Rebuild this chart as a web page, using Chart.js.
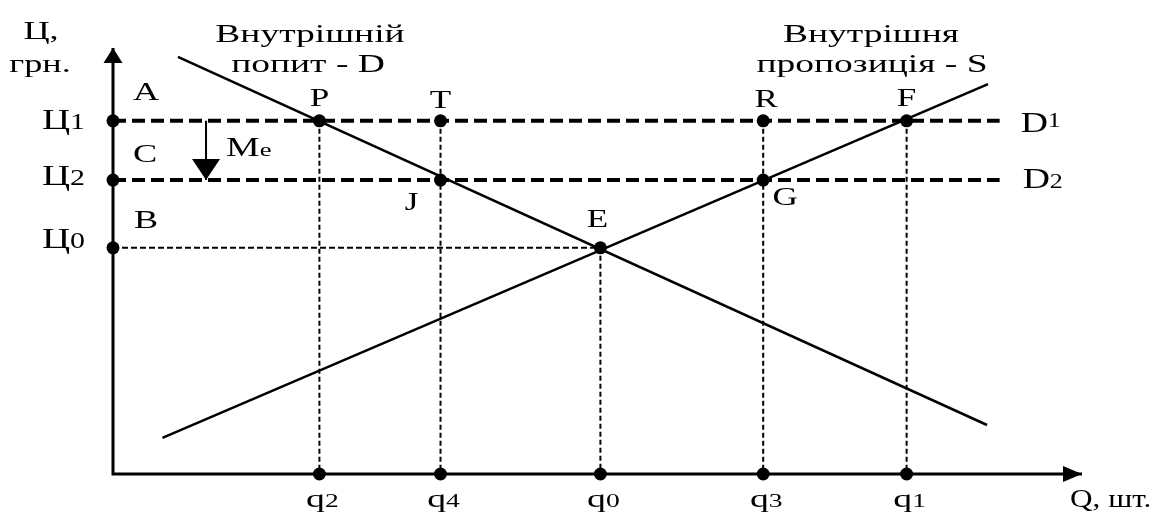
<!DOCTYPE html>
<html>
<head>
<meta charset="utf-8">
<script src="https://cdn.jsdelivr.net/npm/chart.js@4"></script>
<style>
  html, body { margin: 0; padding: 0; background: #fff; }
  #wrap { width: 1162px; height: 514px; }
</style>
</head>
<body>
<div id="wrap"><canvas id="myChart"></canvas></div>
<script>
// quantities on the Q axis
const qNames = ['2', '4', '0', '3', '1'];
const qValues = [21.3, 33.8, 50.3, 67.1, 81.9];
// price levels on the Ц axis
const priceNames = ['1', '2', '0'];
const priceValues = [82.9, 69.0, 53.1];
// demand and supply lines (end points)
const demandX = [6.7, 90.2];
const demandY = [97.9, 11.5];
const supplyX = [5.1, 90.3];
const supplyY = [8.5, 91.5];
// price lines D1 / D2 stop here, arrow Me sits here
const priceLineEnd = 91.5;
const meX = 9.6;
const axisMax = [100, 100];

const [q2, q4, q0, q3, q1] = qValues;
const [p1, p2, p0] = priceValues;

// named points of the diagram
const points = {
  P: [q2, p1], T: [q4, p1], R: [q3, p1], F: [q1, p1],
  J: [q4, p2], G: [q3, p2], E: [q0, p0]
};

const FONT = '"Liberation Serif", "Times New Roman", serif';

// draws a run of text pieces, each [text, size, dy], stretched horizontally by sx
function textRun(ctx, parts, x, y, align, sx) {
  sx = sx || 1.45;
  let total = 0;
  parts.forEach(p => {
    ctx.font = p[1] + 'px ' + FONT;
    total += ctx.measureText(p[0]).width * sx;
  });
  let left = x;
  if (align === 'center') left = x - total / 2;
  if (align === 'right') left = x - total;
  parts.forEach(p => {
    ctx.save();
    ctx.font = p[1] + 'px ' + FONT;
    ctx.fillStyle = '#000';
    ctx.textAlign = 'left';
    ctx.textBaseline = 'alphabetic';
    ctx.translate(left, y + (p[2] || 0));
    ctx.scale(sx, 1);
    ctx.fillText(p[0], 0, 0);
    const w = ctx.measureText(p[0]).width * sx;
    ctx.restore();
    left += w;
  });
}

const arrowPlugin = {
  id: 'arrows',
  afterDatasetsDraw(chart) {
    const ctx = chart.ctx;
    chart.data.datasets.forEach((ds, i) => {
      if (!ds.arrowHead) return;
      const pts = chart.getDatasetMeta(i).data;
      const heads = [];
      if (ds.arrowHead.end) heads.push([pts[pts.length - 1], pts[pts.length - 2], ds.arrowHead.end]);
      if (ds.arrowHead.start) heads.push([pts[0], pts[1], ds.arrowHead.start]);
      heads.forEach(([tip, prev, size]) => {
        const a = Math.atan2(tip.y - prev.y, tip.x - prev.x);
        const bx = tip.x - Math.cos(a) * size[0];
        const by = tip.y - Math.sin(a) * size[0];
        ctx.save();
        ctx.fillStyle = '#000';
        ctx.beginPath();
        ctx.moveTo(tip.x, tip.y);
        ctx.lineTo(bx - Math.sin(a) * size[1], by + Math.cos(a) * size[1]);
        ctx.lineTo(bx + Math.sin(a) * size[1], by - Math.cos(a) * size[1]);
        ctx.closePath();
        ctx.fill();
        ctx.restore();
      });
    });
  }
};

const labelPlugin = {
  id: 'labels',
  afterDraw(chart) {
    const ctx = chart.ctx;
    const xs = chart.scales.x, ys = chart.scales.y;
    const px = v => xs.getPixelForValue(v);
    const py = v => ys.getPixelForValue(v);
    const ax = px(0), ay = py(0);

    // axis titles and curve names
    textRun(ctx, [['Ц,', 25]], 41, 39, 'center');
    textRun(ctx, [['грн.', 25]], 40, 72, 'center');
    textRun(ctx, [['Внутрішній', 25]], 310, 42, 'center', 1.5);
    textRun(ctx, [['попит - D', 25]], 308, 72, 'center', 1.5);
    textRun(ctx, [['Внутрішня', 25]], 871, 42, 'center', 1.5);
    textRun(ctx, [['пропозиція - S', 25]], 872, 72, 'center', 1.5);
    textRun(ctx, [['Q, шт.', 25]], 1070, ay + 33, 'left', 1.25);

    // price ticks
    const pOff = [8, 5, 0];
    priceValues.forEach((v, i) => {
      textRun(ctx, [['Ц', 30], [priceNames[i], 23]], ax - 28, py(v) + pOff[i], 'right', 1.3);
    });
    // quantity ticks
    qValues.forEach((v, i) => {
      textRun(ctx, [['q', 26], [qNames[i], 19]], px(v) + 3, ay + 33, 'center');
    });

    // areas
    textRun(ctx, [['A', 25]], ax + 33, py(p1) - 21, 'center');
    textRun(ctx, [['C', 25]], ax + 32, py(p2) - 18, 'center');
    textRun(ctx, [['B', 25]], ax + 33, py(p0) - 20, 'center');

    // point names
    const off = { P: [0, -15], T: [0, -13], R: [3, -14], F: [0, -15], J: [-29, 30], G: [22, 25], E: [-3, -21] };
    Object.keys(points).forEach(k => {
      const [x, y] = points[k];
      textRun(ctx, [[k, 26]], px(x) + off[k][0], py(y) + off[k][1], 'center', 1.35);
    });

    // Me, D1, D2
    textRun(ctx, [['M', 27], ['e', 19]], px(meX) + 20, (py(p1) + py(p2)) / 2 + 6, 'left', 1.4);
    textRun(ctx, [['D', 29], ['1', 20, -5]], px(priceLineEnd) + 21, py(p1) + 11, 'left', 1.3);
    textRun(ctx, [['D', 29], ['2', 20]], px(priceLineEnd) + 23, py(p2) + 8, 'left', 1.3);
  }
};

const seg = (a, b) => [{ x: a[0], y: a[1] }, { x: b[0], y: b[1] }];

const datasets = [];
// dotted drops to the Q axis
[points.P, points.T, points.E, points.R, points.F].forEach(p => {
  datasets.push({ data: seg(p, [p[0], 0]), borderColor: '#000', borderWidth: 2, borderDash: [5, 3], pointRadius: 0 });
});
// dashed line from Ц0 to E
datasets.push({ data: seg([0, p0], points.E), borderColor: '#000', borderWidth: 2, borderDash: [6, 3], pointRadius: 0 });
// price lines D1 and D2
[p1, p2].forEach(p => {
  datasets.push({ data: seg([0, p], [priceLineEnd, p]), borderColor: '#000', borderWidth: 4, borderDash: [13, 6], pointRadius: 0 });
});
// demand and supply
datasets.push({ data: seg([demandX[0], demandY[0]], [demandX[1], demandY[1]]), borderColor: '#000', borderWidth: 2.5, pointRadius: 0 });
datasets.push({ data: seg([supplyX[0], supplyY[0]], [supplyX[1], supplyY[1]]), borderColor: '#000', borderWidth: 2.5, pointRadius: 0 });
// Me arrow
datasets.push({ data: seg([meX, p1], [meX, p2]), borderColor: '#000', borderWidth: 2, pointRadius: 0, arrowHead: { end: [21, 14] } });
// axes
datasets.push({
  data: [{ x: 0, y: axisMax[1] }, { x: 0, y: 0 }, { x: axisMax[0], y: 0 }],
  borderColor: '#000', borderWidth: 3, pointRadius: 0, arrowHead: { start: [15, 9.5], end: [19, 8] }
});
// dots
const dots = Object.values(points).map(p => ({ x: p[0], y: p[1] }))
  .concat(priceValues.map(v => ({ x: 0, y: v })))
  .concat(qValues.map(v => ({ x: v, y: 0 })));
datasets.push({ data: dots, showLine: false, pointRadius: 6.5, pointBackgroundColor: '#000', pointBorderColor: '#000', pointBorderWidth: 0 });

datasets.forEach(d => { d.clip = false; d.fill = false; d.tension = 0; });

const ctx = document.getElementById('myChart').getContext('2d');
const myChart = new Chart(ctx, {
  type: 'line',
  data: { datasets: datasets },
  options: {
    responsive: true,
    maintainAspectRatio: false,
    animation: false,
    layout: { padding: { left: 113, right: 80, top: 48, bottom: 40 } },
    plugins: { legend: { display: false }, tooltip: { enabled: false } },
    scales: {
      x: { type: 'linear', min: 0, max: axisMax[0], display: false },
      y: { type: 'linear', min: 0, max: axisMax[1], display: false }
    }
  },
  plugins: [arrowPlugin, labelPlugin]
});
</script>
</body>
</html>
